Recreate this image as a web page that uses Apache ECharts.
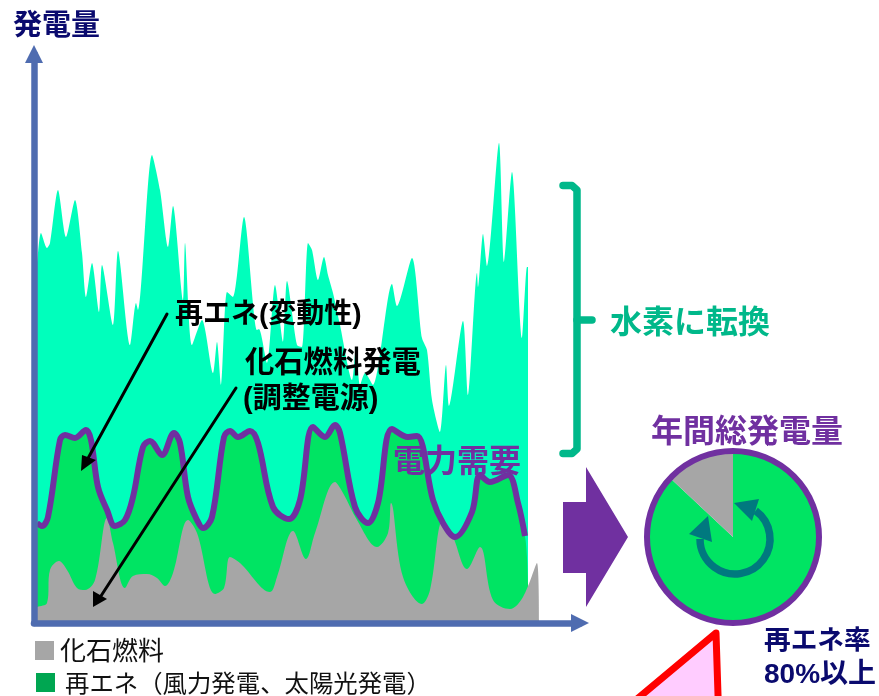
<!DOCTYPE html>
<html lang="ja">
<head>
<meta charset="utf-8">
<title>発電量</title>
<script src="https://cdn.jsdelivr.net/npm/echarts@6/dist/echarts.min.js"></script>
<style>
  html, body { margin: 0; padding: 0; background: #fff; }
  #chart { width: 879px; height: 696px; }
</style>
</head>
<body>
<div id="chart"></div>
<script>
// Generation profile over the year: [time, output] in relative units.
const totalRenewable = [[0,340],[3,360],[7,390],[13,375],[16,380],[24,433],[32,386],[41,423],[48,370],[52,326],[58,360],[65,311],[68,358],[79,298],[84,372],[96,278],[102,320],[104,313],[118,468],[126,433],[134,376],[139,417],[149,323],[151,380],[158,278],[168,303],[179,250],[183,281],[187,238],[193,331],[199,326],[210,406],[223,293],[225,294],[233,260],[241,338],[249,281],[253,342],[263,278],[268,276],[274,380],[278,373],[284,343],[290,366],[294,348],[299,330],[306,298],[318,243],[322,276],[326,238],[331,250],[339,238],[358,339],[363,317],[378,365],[388,285],[393,273],[398,223],[406,191],[412,258],[415,217],[429,302],[434,228],[443,350],[444,336],[449,389],[453,357],[465,480],[470,361],[478,451],[488,285],[493,356],[494,356]];

const demand = [[3,100],[8,97],[14,106],[26,183],[31,188],[41,185],[52,193],[57,183],[64,136],[73,113],[81,97],[91,103],[99,126],[109,176],[116,182],[128,168],[140,190],[146,180],[154,126],[163,103],[169,95],[178,106],[190,186],[196,192],[204,186],[216,192],[224,180],[239,116],[255,104],[266,123],[279,196],[291,186],[301,198],[306,190],[321,116],[334,100],[344,120],[358,194],[374,186],[383,187],[399,123],[409,100],[421,86],[438,111],[446,148],[456,141],[474,148],[484,120],[491,87]];

// Renewable output used directly: follows demand, then tails off at the end of the period.
const usedRenewable = [[0,100], ...demand, [493,65], [494,40]];

const fossil = [[0,14],[3,16],[13,20],[16,53],[25,62],[33,53],[43,35],[51,33],[61,43],[73,105],[79,80],[91,35],[99,47],[113,49],[123,45],[131,37],[139,50],[154,103],[163,90],[181,29],[190,35],[196,66],[206,60],[236,31],[243,46],[259,92],[272,64],[281,90],[301,141],[309,130],[323,103],[343,76],[354,90],[357,120],[369,46],[388,19],[396,33],[409,103],[419,86],[433,54],[446,76],[459,23],[476,14],[489,26],[503,60],[505,3]];

// Annual generation mix, percent.
const annualMix = [
  { name: '再エネ', value: 87 },
  { name: '化石燃料', value: 13 }
];

const COLORS = {
  surplus: '#00FFBC', renewable: '#00E463', fossil: '#A6A6A6', demand: '#7030A0',
  axis: '#4F6CB0', navy: '#0A0A6E', hydrogen: '#00B88A', cycle: '#00797F',
  legendGreen: '#00A651', red: '#FF0000', pink: '#FFCCFF'
};
const FONT = '"Liberation Sans","Noto Sans CJK JP",sans-serif';

function label(text, x, y, size, color, weight, extra) {
  return {
    type: 'text', z: 20, x, y: y + 2,
    style: Object.assign({
      text, fill: color, font: (weight || 'bold') + ' ' + size + 'px ' + FONT,
      textAlign: 'left', textVerticalAlign: 'middle'
    }, extra || {})
  };
}
function poly(points, fill, z) {
  return { type: 'polygon', z: z || 15, shape: { points }, style: { fill } };
}
function segment(points, color, width, z) {
  return {
    type: 'polyline', z: z || 15, shape: { points },
    style: { stroke: color, lineWidth: width, fill: null, lineJoin: 'round', lineCap: 'round' }
  };
}
function areaSeries(name, data, fill, z, smooth) {
  return {
    name, type: 'line', data, z, smooth, symbol: 'none', silent: true,
    lineStyle: { width: 0 }, areaStyle: { color: fill, opacity: 1 }
  };
}

const chart = echarts.init(document.getElementById('chart'), null, { renderer: 'canvas' });
chart.setOption({
  animation: false,
  backgroundColor: '#fff',
  grid: { left: 34, top: 54, width: 546, height: 569 },
  xAxis: {
    type: 'value', min: 0, max: 546, z: 6,
    axisLine: { show: true, symbol: ['none', 'triangle'], symbolSize: [18, 18], lineStyle: { color: COLORS.axis, width: 6.5 } },
    axisTick: { show: false }, axisLabel: { show: false }, splitLine: { show: false }
  },
  yAxis: {
    type: 'value', min: 0, max: 569, z: 6,
    axisLine: { show: true, symbol: ['none', 'triangle'], symbolSize: [18, 18], lineStyle: { color: COLORS.axis, width: 6.5 } },
    axisTick: { show: false }, axisLabel: { show: false }, splitLine: { show: false }
  },
  series: [
    areaSeries('再エネ(変動性)', totalRenewable, COLORS.surplus, 2, 0.25),
    areaSeries('再エネ(風力発電、太陽光発電)', usedRenewable, COLORS.renewable, 3, 0.35),
    areaSeries('化石燃料', fossil, COLORS.fossil, 4, 0.35),
    {
      name: '電力需要', type: 'line', data: demand, z: 5, smooth: 0.35, symbol: 'none', silent: true,
      lineStyle: { color: COLORS.demand, width: 6 }
    },
    {
      name: '年間総発電量', type: 'pie', center: [733, 537], radius: [0, 86], startAngle: 90,
      clockwise: true, silent: true, z: 5, label: { show: false }, labelLine: { show: false },
      data: annualMix,
      color: [COLORS.renewable, COLORS.fossil]
    }
  ],
  graphic: { elements: [
    label('発電量', 13, 25, 29, COLORS.navy),
    label('再エネ(変動性)', 175, 313, 28, '#000'),
    label('化石燃料発電', 245, 362, 29.3, '#000'),
    label('(調整電源)', 243, 398, 29, '#000'),
    label('電力需要', 393, 461, 32, COLORS.demand, 'bold',
      { shadowColor: 'rgba(0,0,0,0.45)', shadowBlur: 3, shadowOffsetX: 2, shadowOffsetY: 2 }),
    label('水素に転換', 610, 322, 32, COLORS.hydrogen),
    label('年間総発電量', 651, 431, 32, COLORS.demand),
    label('再エネ率', 764, 640, 26.7, COLORS.navy),
    label('80%以上', 764, 673, 28, COLORS.navy),

    // legend
    { type: 'rect', z: 15, shape: { x: 35, y: 641, width: 19, height: 19 }, style: { fill: COLORS.fossil } },
    { type: 'rect', z: 15, shape: { x: 36, y: 673, width: 19, height: 19 }, style: { fill: COLORS.legendGreen } },
    label('化石燃料', 60, 651, 26, '#111', 'normal'),
    label('再エネ（風力発電、太陽光発電）', 65, 683, 24.4, '#111', 'normal'),

    // callout arrows
    segment([[167, 314], [86, 462]], '#000', 3),
    poly([[81, 471], [82, 455], [96, 460]], '#000'),
    segment([[236, 388], [99, 599]], '#000', 3),
    poly([[93, 607], [93, 591], [107, 599]], '#000'),

    // bracket around the surplus band
    segment([[563, 185.5], [572, 185.5], [577, 190], [577, 449], [572, 453.5], [563, 453.5]], COLORS.hydrogen, 7.5),
    segment([[577, 320], [592, 320]], COLORS.hydrogen, 7.5),

    // conversion arrow toward the annual mix
    poly([[563, 502], [586, 502], [586, 467], [628, 537], [586, 607], [586, 573], [563, 573]], COLORS.demand),

    // ring and cycle marks on the annual mix
    { type: 'circle', z: 15, shape: { cx: 733, cy: 537, r: 86 }, style: { fill: null, stroke: COLORS.demand, lineWidth: 6 } },
    { type: 'arc', z: 15, shape: { cx: 735, cy: 539, r: 35, startAngle: -0.94, endAngle: Math.PI, clockwise: true },
      style: { fill: null, stroke: COLORS.cycle, lineWidth: 7.5 } },
    poly([[689, 534], [708, 516], [712, 542]], COLORS.cycle),
    poly([[759, 499], [734, 503], [752, 521]], COLORS.cycle),

    // warning triangle, cut off by the page edge
    { type: 'polygon', z: 15, shape: { points: [[716, 633], [606, 725], [719, 725]] },
      style: { fill: COLORS.pink, stroke: COLORS.red, lineWidth: 7, lineJoin: 'round' } }
  ] }
});
</script>
</body>
</html>
